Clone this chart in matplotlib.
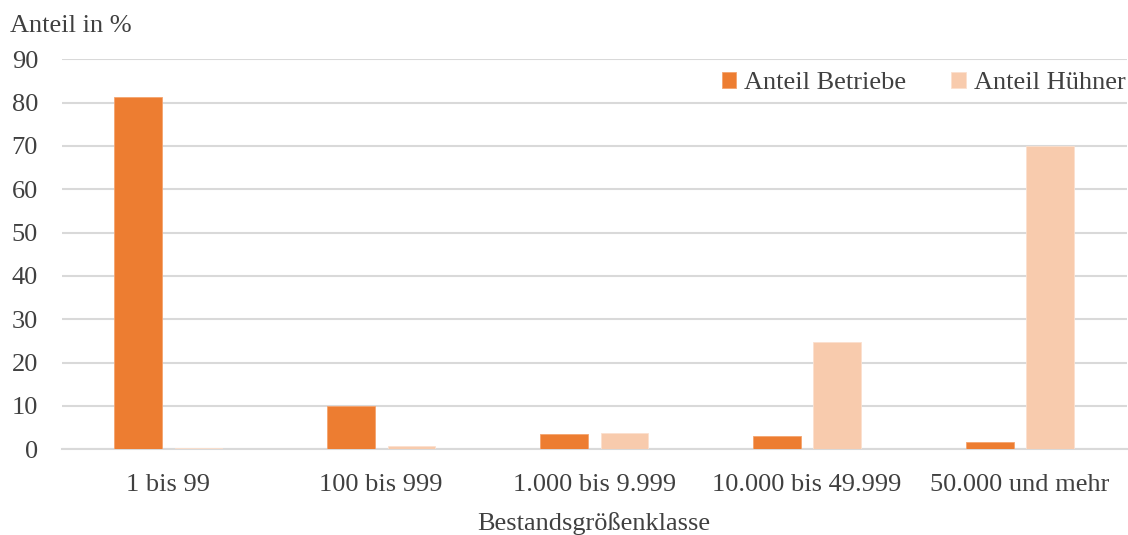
import matplotlib
matplotlib.use('Agg')
import matplotlib.pyplot as plt
import numpy as np

# data
klassen = ['1 bis 99', '100 bis 999', '1.000 bis 9.999', '10.000 bis 49.999', '50.000 und mehr']
anteil_betriebe = [81.4, 10.1, 3.5, 3.1, 1.7]
anteil_huehner = [0.3, 0.8, 3.8, 24.8, 70.0]
yticks = [0, 10, 20, 30, 40, 50, 60, 70, 80, 90]

ORANGE = '#ED7D31'
PEACH = '#F8CBAD'
TXT = '#404040'
GRID = '#D9D9D9'

plt.rcParams.update({
    'font.family': ['Liberation Serif', 'DejaVu Serif'],
    'font.size': 19,
    'text.color': TXT,
    'axes.labelcolor': TXT,
    'xtick.color': TXT,
    'ytick.color': TXT,
})

fig = plt.figure(figsize=(11.28, 5.35), dpi=100)
ax = fig.add_axes([0.0547, 0.1602, 0.944, 0.7289])

x = np.arange(len(klassen))
w = 0.225
off = 0.1425
ax.bar(x - off, anteil_betriebe, w, color=ORANGE, edgecolor='#F4A46F', linewidth=0.6,
       label='Anteil Betriebe', zorder=3)
ax.bar(x + off, anteil_huehner, w, color=PEACH, edgecolor='#FBE0CF', linewidth=0.6,
       label='Anteil Hühner', zorder=3)

ax.set_xlim(-0.5, len(klassen) - 0.5)
ax.set_ylim(0, 90)
ax.set_yticks(yticks)
ax.set_xticks(x)
ax.set_xticklabels(klassen)
ax.tick_params(axis='both', length=0)
ax.tick_params(axis='y', pad=17)
ax.tick_params(axis='x', pad=17.5)
ax.yaxis.grid(True, color=GRID, linewidth=1.5, zorder=0)
ax.set_axisbelow(True)
for s in ['top', 'right', 'left']:
    ax.spines[s].set_visible(False)
ax.spines['bottom'].set_color(GRID)
ax.spines['bottom'].set_linewidth(1.5)

ax.set_xlabel('Bestandsgrößenklasse', labelpad=11.5)
fig.text(10 / 1128, 1 - 26 / 535, 'Anteil in %', ha='left', va='center')

fig.legend(loc='center right', bbox_to_anchor=(1128 / 1128, 1 - 83 / 535), frameon=False,
           ncol=2, handlelength=0.55, handleheight=0.55, handletextpad=0.3,
           columnspacing=1.7, borderpad=0, borderaxespad=0.1)

fig.savefig('out.png', dpi=100)
